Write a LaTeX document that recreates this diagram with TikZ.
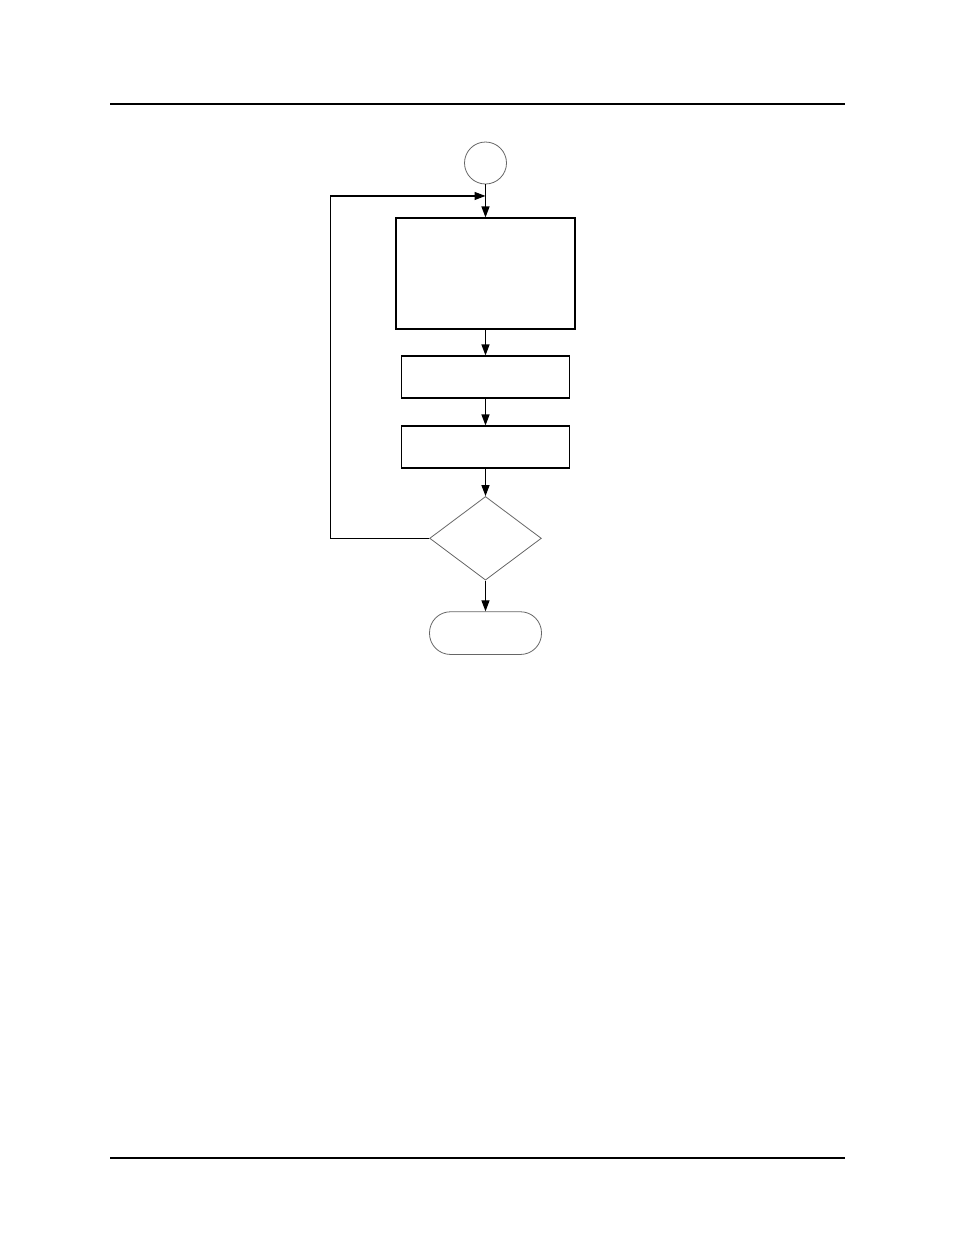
\documentclass[tikz,border=0pt]{standalone}
\usepackage{tikz}
\usetikzlibrary{shapes.geometric,arrows.meta,positioning,calc}

\begin{document}
\begin{tikzpicture}[
    x=1pt, y=1pt,
    box/.style={rectangle, draw=black, line width=1.1pt, inner sep=0pt},
    thinshape/.style={draw=black!60, line width=0.8pt, inner sep=0pt},
    arrow/.style={-{Triangle[length=11pt,width=8pt]}, line width=1.2pt},
    rule/.style={line width=1.3pt}
]
\useasboundingbox (0,0) rectangle (954,-1235);

% Page rules
\draw[rule] (110,-104) -- (845,-104);
\draw[rule] (110,-1158) -- (845,-1158);

% Main components
\node[thinshape, circle, minimum size=42pt] (start) at (485.5,-163) {};
\node[box, below of=start, node distance=110.5pt, minimum width=179pt, minimum height=111pt] (setup) {};
\node[box, below of=setup, node distance=103.5pt, minimum width=168pt, minimum height=42pt] (stepone) {};
\node[box, below of=stepone, node distance=70pt, minimum width=168pt, minimum height=42pt] (steptwo) {};
\node[thinshape, diamond, below of=steptwo, node distance=91.3pt, minimum width=111.7pt, minimum height=83.6pt] (check) {};
\node[thinshape, rectangle, rounded corners=21pt, below of=check, node distance=94.8pt, minimum width=112pt, minimum height=42.7pt] (finish) {};

% Loop entry point
\coordinate (loopin) at ($(start.south)!0.35!(setup.north)$);

% Arrows between main components
\draw[arrow] (start) -- (setup);
\draw[arrow] (setup) -- (stepone);
\draw[arrow] (stepone) -- (steptwo);
\draw[arrow] (steptwo) -- (check);
\draw[arrow] (check) -- (finish);
\draw[arrow] (check.west) -- ++(-98.5,0) |- (loopin);

\end{tikzpicture}
\end{document}
